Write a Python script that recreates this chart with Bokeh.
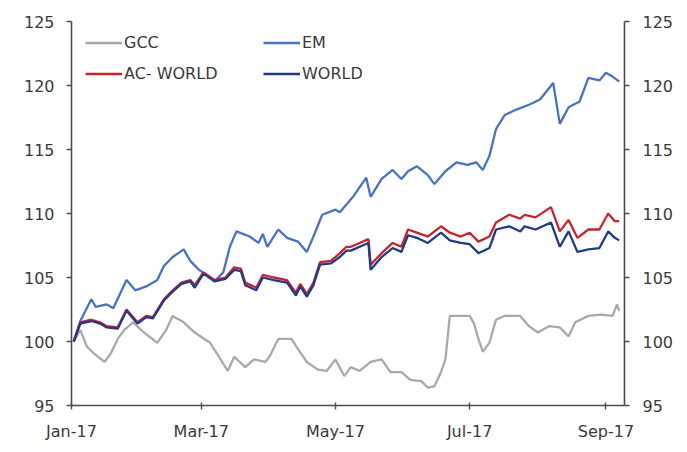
from datetime import datetime
import pandas as pd
from bokeh.plotting import figure
from bokeh.models import (LinearAxis, Range1d, FixedTicker, DatetimeTickFormatter,
                          Legend, LegendItem)
from bokeh.embed import file_html
from bokeh.resources import INLINE

# ---------------- data ----------------
em_dates = ["2017-01-02", "2017-01-05", "2017-01-10", "2017-01-12", "2017-01-17", "2017-01-20",
            "2017-01-26", "2017-01-30", "2017-02-04", "2017-02-09", "2017-02-12", "2017-02-16",
            "2017-02-21", "2017-02-24", "2017-02-28", "2017-03-05", "2017-03-07", "2017-03-11",
            "2017-03-14", "2017-03-17", "2017-03-23", "2017-03-27", "2017-03-29", "2017-03-31",
            "2017-04-05", "2017-04-09", "2017-04-14", "2017-04-18", "2017-04-21", "2017-04-25",
            "2017-05-01", "2017-05-03", "2017-05-06", "2017-05-09", "2017-05-15", "2017-05-17",
            "2017-05-22", "2017-05-27", "2017-05-31", "2017-06-03", "2017-06-07", "2017-06-12",
            "2017-06-15", "2017-06-20", "2017-06-25", "2017-06-30", "2017-07-04", "2017-07-07",
            "2017-07-10", "2017-07-13", "2017-07-17", "2017-07-22", "2017-07-28", "2017-08-02",
            "2017-08-08", "2017-08-11", "2017-08-15", "2017-08-20", "2017-08-24", "2017-08-29",
            "2017-09-01", "2017-09-04", "2017-09-07"]
em_values = [100.0, 101.6, 103.3, 102.7, 102.9, 102.6,
             104.8, 104.0, 104.3, 104.8, 105.9, 106.6,
             107.2, 106.3, 105.6, 105.0, 104.7, 105.4,
             107.4, 108.6, 108.2, 107.7, 108.4, 107.4,
             108.75, 108.1, 107.8, 107.0, 108.2, 109.9,
             110.3, 110.1, 110.7, 111.3, 112.8, 111.3,
             112.7, 113.4, 112.7, 113.3, 113.7, 113.0,
             112.3, 113.3, 114.0, 113.8, 114.0, 113.4,
             114.5, 116.6, 117.7, 118.1, 118.5, 118.9,
             120.2, 117.0, 118.3, 118.75, 120.6, 120.4,
             121.0, 120.7, 120.3]

world_dates = ["2017-01-02", "2017-01-05", "2017-01-10", "2017-01-14", "2017-01-17", "2017-01-22",
               "2017-01-26", "2017-01-31", "2017-02-04", "2017-02-07", "2017-02-12", "2017-02-16",
               "2017-02-20", "2017-02-24", "2017-02-26", "2017-03-02", "2017-03-07", "2017-03-12",
               "2017-03-16", "2017-03-19", "2017-03-21", "2017-03-26", "2017-03-29", "2017-04-03",
               "2017-04-09", "2017-04-13", "2017-04-15", "2017-04-18", "2017-04-21", "2017-04-24",
               "2017-04-29", "2017-05-03", "2017-05-06", "2017-05-08", "2017-05-12", "2017-05-16",
               "2017-05-17", "2017-05-22", "2017-05-27", "2017-05-31", "2017-06-03", "2017-06-07",
               "2017-06-12", "2017-06-18", "2017-06-22", "2017-06-27", "2017-07-01", "2017-07-05",
               "2017-07-10", "2017-07-13", "2017-07-19", "2017-07-24", "2017-07-26", "2017-07-31",
               "2017-08-07", "2017-08-11", "2017-08-15", "2017-08-19", "2017-08-24", "2017-08-29",
               "2017-09-02", "2017-09-05", "2017-09-07"]
acworld_values = [100.0, 101.5, 101.7, 101.5, 101.2, 101.1,
                  102.5, 101.5, 102.0, 101.9, 103.3, 104.0,
                  104.6, 104.8, 104.4, 105.4, 104.8, 105.0,
                  105.8, 105.7, 104.6, 104.2, 105.2, 105.0,
                  104.8, 103.8, 104.5, 103.7, 104.6, 106.2,
                  106.3, 106.9, 107.4, 107.4, 107.7, 108.0,
                  106.0, 106.9, 107.7, 107.4, 108.75, 108.5,
                  108.2, 109.0, 108.5, 108.2, 108.5, 107.8,
                  108.2, 109.3, 109.9, 109.6, 109.9, 109.7,
                  110.5, 108.6, 109.5, 108.1, 108.75, 108.75,
                  110.0, 109.4, 109.4]
world_values = [100.0, 101.4, 101.6, 101.4, 101.1, 101.0,
                102.4, 101.4, 101.9, 101.8, 103.2, 103.9,
                104.5, 104.7, 104.2, 105.3, 104.7, 104.9,
                105.6, 105.5, 104.4, 104.0, 105.0, 104.8,
                104.6, 103.6, 104.3, 103.5, 104.4, 106.0,
                106.1, 106.6, 107.1, 107.1, 107.4, 107.7,
                105.6, 106.6, 107.3, 107.0, 108.3, 108.1,
                107.7, 108.5, 107.9, 107.7, 107.6, 106.9,
                107.3, 108.75, 109.0, 108.6, 109.0, 108.75,
                109.3, 107.4, 108.6, 107.0, 107.2, 107.3,
                108.6, 108.1, 107.9]

gcc_dates = ["2017-01-02", "2017-01-05", "2017-01-08", "2017-01-11", "2017-01-16", "2017-01-19",
             "2017-01-22", "2017-01-25", "2017-01-29", "2017-02-03", "2017-02-09", "2017-02-13",
             "2017-02-16", "2017-02-21", "2017-02-26", "2017-03-05", "2017-03-08", "2017-03-13",
             "2017-03-16", "2017-03-21", "2017-03-25", "2017-03-30", "2017-04-01", "2017-04-05",
             "2017-04-11", "2017-04-14", "2017-04-18", "2017-04-23", "2017-04-27", "2017-05-01",
             "2017-05-05", "2017-05-08", "2017-05-12", "2017-05-17", "2017-05-22", "2017-05-26",
             "2017-05-31", "2017-06-04", "2017-06-09", "2017-06-12", "2017-06-15", "2017-06-18",
             "2017-06-20", "2017-06-22", "2017-06-27", "2017-07-01", "2017-07-03", "2017-07-05",
             "2017-07-07", "2017-07-10", "2017-07-13", "2017-07-17", "2017-07-24", "2017-07-28",
             "2017-08-01", "2017-08-06", "2017-08-11", "2017-08-15", "2017-08-18", "2017-08-24",
             "2017-08-30", "2017-09-04", "2017-09-06", "2017-09-07"]
gcc_values = [100.0, 100.9, 99.6, 99.1, 98.4, 99.1,
              100.2, 100.9, 101.5, 100.7, 99.9, 100.9,
              102.0, 101.5, 100.7, 99.9, 99.1, 97.7,
              98.8, 98.0, 98.6, 98.4, 98.8, 100.2,
              100.2, 99.4, 98.4, 97.8, 97.7, 98.6,
              97.3, 98.0, 97.7, 98.4, 98.6, 97.6,
              97.6, 97.0, 96.9, 96.4, 96.5, 97.6,
              98.6, 102.0, 102.0, 102.0, 101.4, 100.2,
              99.2, 99.9, 101.7, 102.0, 102.0, 101.2,
              100.7, 101.2, 101.1, 100.4, 101.5, 102.0,
              102.1, 102.0, 102.9, 102.4]

y_ticks = [95, 100, 105, 110, 115, 120, 125]
x_tick_dates = ["2017-01-01", "2017-03-01", "2017-05-01", "2017-07-01", "2017-09-01"]

# ---------------- styling ----------------
FONT = "DejaVu Sans"
FS = "16px"
TXT = "#3a3a3a"
AX = "#4d4d4d"
C_GCC = "#A9A9A9"
C_EM = "#4A72C2"
C_AC = "#C8232F"
C_WORLD = "#1F3B87"

W, H = 678, 446
p = figure(width=W, height=H, output_backend="svg", toolbar_location=None,
           x_axis_type="datetime",
           x_range=Range1d(datetime(2017, 1, 1), datetime(2017, 9, 9, 10)),
           y_range=Range1d(95, 125),
           min_border_left=71, min_border_right=54, min_border_top=21, min_border_bottom=41)
p.outline_line_color = None
p.grid.grid_line_color = None
p.background_fill_color = "white"
p.border_fill_color = "white"

to_dt = lambda ds: pd.to_datetime(ds)

r_gcc = p.line(to_dt(gcc_dates), gcc_values, line_color=C_GCC, line_width=2.3)
r_em = p.line(to_dt(em_dates), em_values, line_color=C_EM, line_width=2.3)
r_ac = p.line(to_dt(world_dates), acworld_values, line_color=C_AC, line_width=2.3)
r_w = p.line(to_dt(world_dates), world_values, line_color=C_WORLD, line_width=2.3)

# x axis
xt = [pd.Timestamp(d).value / 1e6 for d in x_tick_dates]
xa = p.xaxis[0]
xa.ticker = FixedTicker(ticks=xt)
fmt = "%b-%y"
xa.formatter = DatetimeTickFormatter(milliseconds=fmt, seconds=fmt, minsec=fmt, minutes=fmt,
                                     hourmin=fmt, hours=fmt, days=fmt, months=fmt, years=fmt)
xa.major_tick_in = 3
xa.major_tick_out = 4
xa.minor_tick_line_color = None

# y axes
ya = p.yaxis[0]
ya.ticker = FixedTicker(ticks=y_ticks)
ya.major_tick_in = 0
ya.major_tick_out = 5
ya.minor_tick_line_color = None

ry = LinearAxis(ticker=FixedTicker(ticks=y_ticks))
ry.major_tick_in = 0
ry.major_tick_out = 5
ry.minor_tick_line_color = None
p.add_layout(ry, "right")

for ax in [xa, ya, ry]:
    ax.axis_line_color = AX
    ax.axis_line_width = 1.6
    ax.major_tick_line_color = AX
    ax.major_tick_line_width = 1.4
    ax.major_label_text_font = FONT
    ax.major_label_text_font_size = FS
    ax.major_label_text_color = TXT
ya.major_label_standoff = 12
ry.major_label_standoff = 13
xa.major_label_standoff = 12

# legend (column-major fill: first column GCC / AC- WORLD, second EM / WORLD)
legend = Legend(items=[LegendItem(label="GCC", renderers=[r_gcc]),
                       LegendItem(label="AC- WORLD", renderers=[r_ac]),
                       LegendItem(label="EM", renderers=[r_em]),
                       LegendItem(label="WORLD", renderers=[r_w])],
                ncols=2, location=(14, 316), spacing=0, padding=2, margin=0,
                glyph_width=37, glyph_height=31, label_height=31, label_width=139,
                label_standoff=2, label_text_font=FONT, label_text_font_size=FS,
                label_text_color=TXT, background_fill_color="white",
                background_fill_alpha=1.0, border_line_color=None)
p.add_layout(legend)

open("out.html", "w").write(file_html(p, INLINE))
